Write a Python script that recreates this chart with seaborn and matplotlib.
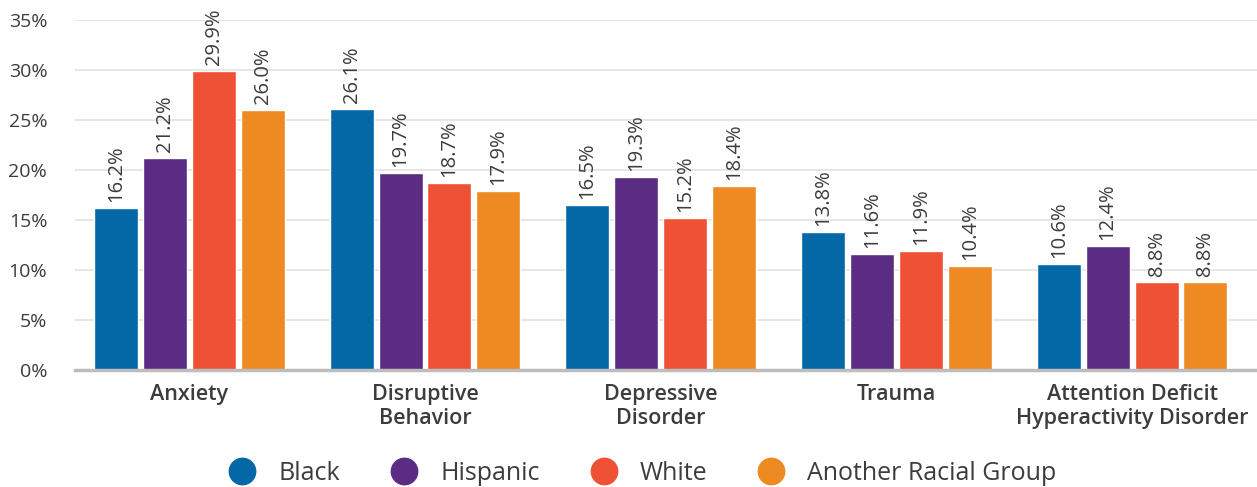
import matplotlib
matplotlib.use("Agg")
import matplotlib.pyplot as plt
import seaborn as sns
import pandas as pd
from matplotlib.lines import Line2D

categories = ["Anxiety", "Disruptive\nBehavior", "Depressive\nDisorder", "Trauma",
              "Attention Deficit\nHyperactivity Disorder"]
groups = ["Black", "Hispanic", "White", "Another Racial Group"]
black = [16.2, 26.1, 16.5, 13.8, 10.6]
hispanic = [21.2, 19.7, 19.3, 11.6, 12.4]
white = [29.9, 18.7, 15.2, 11.9, 8.8]
another = [26.0, 17.9, 18.4, 10.4, 8.8]
colors = ["#0467A6", "#5B2C84", "#EF5134", "#EE8A22"]
yticks = [0, 5, 10, 15, 20, 25, 30, 35]

series = [black, hispanic, white, another]
rows = []
for g, vals in zip(groups, series):
    for c, v in zip(categories, vals):
        rows.append({"category": c, "group": g, "value": v})
df = pd.DataFrame(rows)

sns.set_style("white")
plt.rcParams['font.family'] = ['Open Sans', 'DejaVu Sans']
text_color = "#3c3c3c"

fig = plt.figure(figsize=(12.57, 4.87), dpi=100)
ax = fig.add_axes([75/1257, 1-370/487, 1-75/1257, 350/487])

sns.barplot(data=df, x="category", y="value", hue="group", order=categories,
            hue_order=groups, palette=colors, width=0.83, gap=0.1, ax=ax,
            legend=False, saturation=1)

for cont in ax.containers:
    ax.bar_label(cont, labels=[f"{b.get_height():.1f}%" for b in cont],
                 rotation=90, padding=4, fontsize=14.5, color=text_color)

ax.set_ylim(0, 35)
ax.set_xlim(-0.485, 4.53)
ax.set_yticks(yticks)
ax.set_yticklabels([f"{t}%" for t in yticks], fontsize=14, color=text_color)
ax.tick_params(axis='y', length=0, pad=20)
ax.tick_params(axis='x', length=0, pad=10)
for lab in ax.get_xticklabels():
    lab.set_fontsize(15.5)
    lab.set_fontweight("semibold")
    lab.set_color(text_color)
    lab.set_linespacing(1.2)
ax.set_xlabel("")
ax.set_ylabel("")
ax.yaxis.grid(True, color="#e4e4e4", linewidth=1.3)
ax.set_axisbelow(True)
for s in ["left", "right", "top"]:
    ax.spines[s].set_visible(False)
ax.spines["bottom"].set_color("#bdbdbd")
ax.spines["bottom"].set_linewidth(2.5)
ax.spines["bottom"].set_zorder(5)

handles = [Line2D([0], [0], marker='o', linestyle='', markersize=19,
                  markerfacecolor=c, markeredgecolor=c) for c in colors]
fig.legend(handles, groups, loc="center", bbox_to_anchor=(637/1257, 1-473/487),
           ncol=4, frameon=False, fontsize=18, handletextpad=0.45,
           columnspacing=1.55, labelcolor=text_color)

fig.savefig("out.png", dpi=100)
